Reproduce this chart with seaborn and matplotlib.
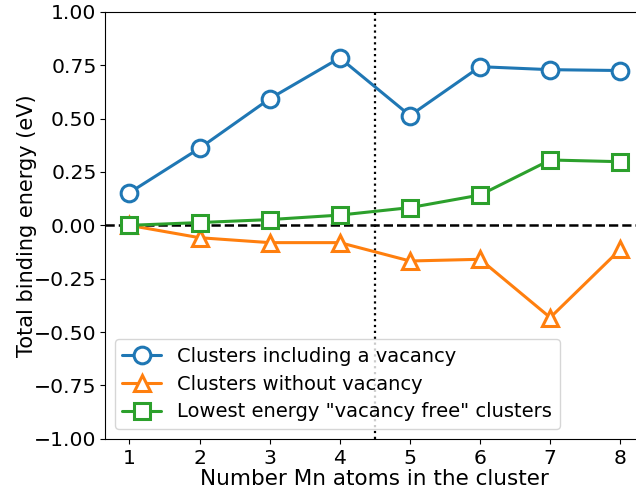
import numpy as np
import pandas as pd
import matplotlib
matplotlib.use("Agg")
import matplotlib.pyplot as plt
import seaborn as sns

# data
n_mn = [1, 2, 3, 4, 5, 6, 7, 8]
with_vacancy = [0.153, 0.361, 0.593, 0.784, 0.514, 0.743, 0.729, 0.725]
without_vacancy = [0.0, -0.058, -0.081, -0.081, -0.167, -0.159, -0.432, -0.112]
lowest_vac_free = [0.0, 0.013, 0.027, 0.048, 0.083, 0.142, 0.306, 0.298]

labels = ["Clusters including a vacancy",
          "Clusters without vacancy",
          'Lowest energy "vacancy free" clusters']

sns.set_style("ticks")
plt.rcParams['font.family'] = ['DejaVu Sans']
plt.rcParams.update({'text.color': 'black', 'axes.labelcolor': 'black',
                     'xtick.color': 'black', 'ytick.color': 'black',
                     'axes.edgecolor': 'black'})

fig = plt.figure(figsize=(6.36, 4.92), dpi=100)
ax = fig.add_axes([0.165, 0.108, 0.849, 0.868])

ax.axhline(0, color='black', ls='--', lw=1.8)
ax.axvline(4.5, color='black', ls=':', lw=1.6)

series = [with_vacancy, without_vacancy, lowest_vac_free]
markers = ['o', '^', 's']
colors = sns.color_palette("tab10")[:3]
for vals, mk, col, lab in zip(series, markers, colors, labels):
    df = pd.DataFrame({'n': n_mn, 'E': vals})
    sns.lineplot(data=df, x='n', y='E', ax=ax, color=col, marker=mk,
                 markersize=12, markerfacecolor='white', markeredgecolor=col,
                 markeredgewidth=2.2, linewidth=2.2, label=lab)

ax.set_ylim(-1.0, 1.0)
ax.set_xlim(0.65, 8.35)
ax.set_yticks(np.arange(-1.0, 1.01, 0.25))
ax.set_xticks(n_mn)
ax.tick_params(labelsize=14.7)
ax.tick_params(axis='y', pad=2.5)
ax.set_xlabel("Number Mn atoms in the cluster", fontsize=15.5, labelpad=1)
ax.set_ylabel("Total binding energy (eV)", fontsize=15, labelpad=-2)
ax.legend(loc='lower left', fontsize=14, handlelength=2.0,
          borderaxespad=0.5, labelspacing=0.45)

fig.savefig("out.png", dpi=100)
